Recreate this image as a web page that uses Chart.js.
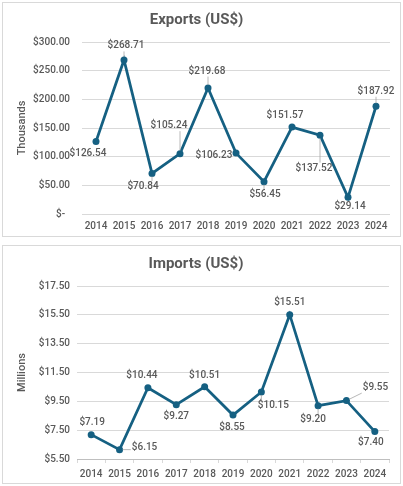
<!DOCTYPE html>
<html lang="en">
<head>
<meta charset="UTF-8">
<title>Exports and Imports (US$)</title>
<script src="https://cdn.jsdelivr.net/npm/chart.js"></script>
<style>
  body { margin: 0; background: #fff; }
  .box { position: absolute; left: 2px; width: 397px; border: 1px solid #d9d9d9; background: #fff; }
  #exportsBox { top: 2px; height: 233px; }
  #importsBox { top: 245px; height: 237px; }
</style>
</head>
<body>
<div class="box" id="exportsBox"><canvas id="exportsChart"></canvas></div>
<div class="box" id="importsBox"><canvas id="importsChart"></canvas></div>

<script>
  const years = ['2014', '2015', '2016', '2017', '2018', '2019', '2020', '2021', '2022', '2023', '2024'];
  const exportsThousands = [126.54, 268.71, 70.84, 105.24, 219.68, 106.23, 56.45, 151.57, 137.52, 29.14, 187.92];
  const importsMillions = [7.19, 6.15, 10.44, 9.27, 10.51, 8.55, 10.15, 15.51, 9.20, 9.55, 7.40];

  // where each data label sits, relative to its point (px)
  const exportsLabelPos = [[-8, 12], [2, -14], [-9, 13], [-11, -28], [-1, -17], [-22, 2], [1, 13], [-7, -12], [-6, 33], [2, 9], [0, -15]];
  const importsLabelPos = [[1, -12], [25, -2], [-6, -12], [0, 12], [0, -11], [-1, 12], [12, 14], [0, -12], [-5, 14], [29, -13], [-4, 11]];

  const lineColor = '#156082';
  const textColor = '#595959';
  const gridColor = '#d9d9d9';

  Chart.defaults.font.family = 'Roboto';
  Chart.defaults.color = textColor;

  // data labels with grey leader lines when the label sits away from the point
  const pointLabels = {
    id: 'pointLabels',
    afterDatasetsDraw(chart, args, opts) {
      const ctx = chart.ctx;
      const meta = chart.getDatasetMeta(0);
      const values = chart.data.datasets[0].data;
      ctx.save();
      ctx.font = '500 10px Roboto';
      ctx.textAlign = 'center';
      ctx.textBaseline = 'middle';
      meta.data.forEach((pt, i) => {
        const [dx, dy] = opts.pos[i];
        const text = '$' + values[i].toFixed(2);
        const lx = pt.x + dx, ly = pt.y + dy;
        const w = ctx.measureText(text).width + 2, h = 11;
        const nx = Math.max(lx - w / 2, Math.min(pt.x, lx + w / 2));
        const ny = Math.max(ly - h / 2, Math.min(pt.y, ly + h / 2));
        const dist = Math.hypot(nx - pt.x, ny - pt.y);
        if (dist > 7) {
          ctx.strokeStyle = '#a6a6a6';
          ctx.lineWidth = 0.8;
          ctx.beginPath();
          ctx.moveTo(nx, ny);
          ctx.lineTo(pt.x + (nx - pt.x) * 3 / dist, pt.y + (ny - pt.y) * 3 / dist);
          ctx.stroke();
        }
        ctx.fillStyle = textColor;
        ctx.fillText(text, lx, ly);
      });
      ctx.restore();
    }
  };

  function makeChart(id, title, axisTitle, values, labelPos, yScale, xScale, area) {
    return new Chart(document.getElementById(id), {
      type: 'line',
      data: {
        labels: years,
        datasets: [{
          data: values,
          borderColor: lineColor,
          backgroundColor: lineColor,
          borderWidth: 2.75,
          pointRadius: 3.5,
          pointBorderWidth: 0,
          pointBackgroundColor: lineColor,
          tension: 0
        }]
      },
      options: {
        responsive: true,
        maintainAspectRatio: false,
        animation: false,
        layout: { autoPadding: false, padding: { top: 0, left: 0, right: area.right, bottom: area.bottom } },
        plugins: {
          legend: { display: false },
          tooltip: { enabled: false },
          title: {
            display: true,
            text: title,
            color: textColor,
            font: { size: 15, weight: 'bold' },
            padding: { top: area.titleTop, bottom: area.titleBottom }
          },
          pointLabels: { pos: labelPos }
        },
        scales: {
          x: Object.assign({ offset: true }, xScale),
          y: Object.assign({
            grid: { color: gridColor, drawTicks: false },
            border: { display: false },
            title: {
              display: true,
              text: axisTitle,
              font: { size: 11, weight: '500' },
              padding: { top: 13, bottom: 0 }
            },
            afterFit: s => { s.width = area.left; }
          }, yScale)
        }
      },
      plugins: [pointLabels]
    });
  }

  makeChart('exportsChart', 'Exports (US$)', 'Thousands', exportsThousands, exportsLabelPos,
    {
      min: 0, max: 300,
      ticks: { stepSize: 50, padding: 12, font: { size: 10, weight: '500' },
        callback: v => v === 0 ? '$-  ' : '$' + v.toFixed(2) }
    },
    {
      grid: { display: false, drawTicks: false },
      border: { display: false },
      ticks: { padding: 6, maxRotation: 0, autoSkip: false, font: { size: 10, weight: '500' } }
    },
    { left: 79, right: 10, bottom: -2, titleTop: 8, titleBottom: 13 });

  makeChart('importsChart', 'Imports (US$)', 'Millions', importsMillions, importsLabelPos,
    {
      min: 5.5, max: 17.5,
      ticks: { stepSize: 2, padding: 7, font: { size: 10, weight: '500' },
        callback: v => '$' + v.toFixed(2) }
    },
    {
      grid: { display: true, offset: true, drawOnChartArea: false, drawTicks: true, tickLength: 4, color: gridColor },
      border: { display: true, color: '#bfbfbf' },
      ticks: { padding: 5, maxRotation: 0, autoSkip: false, font: { size: 10, weight: '500' } }
    },
    { left: 74, right: 11, bottom: -2, titleTop: 9, titleBottom: 13 });
</script>
</body>
</html>
